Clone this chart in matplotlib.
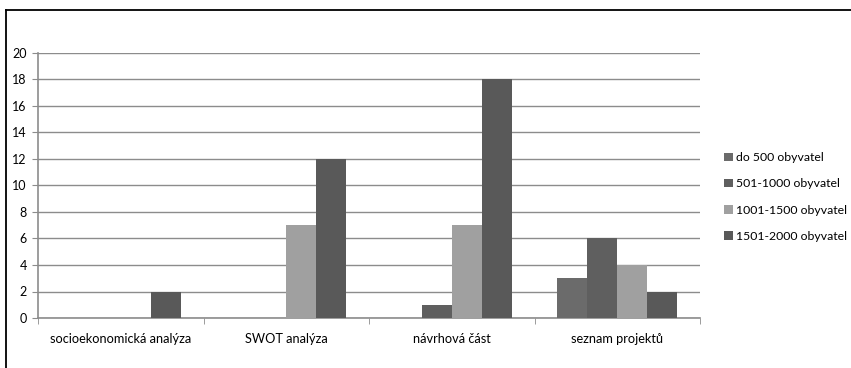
import matplotlib
matplotlib.use("Agg")
import matplotlib.pyplot as plt
import numpy as np

plt.rcParams['font.family'] = ['Lato', 'DejaVu Sans']

kategorie = ['socioekonomická analýza', 'SWOT analýza', 'návrhová část', 'seznam projektů']
skupiny = ['do 500 obyvatel', '501-1000 obyvatel', '1001-1500 obyvatel', '1501-2000 obyvatel']
do_500 = [0, 0, 0, 3]
od_501 = [0, 0, 1, 6]
od_1001 = [0, 7, 7, 4]
od_1501 = [2, 12, 18, 2]
barvy = ['#6b6b6b', '#5f5f5f', '#a0a0a0', '#595959']

fig = plt.figure(figsize=(8.51, 3.68), dpi=100)
ax = fig.add_axes([38 / 851, 1 - 318 / 368, (700 - 38) / 851, (318 - 53) / 368])

x = np.arange(len(kategorie))
w = 0.181
for i, (hodnoty, barva, nazev) in enumerate(zip([do_500, od_501, od_1001, od_1501], barvy, skupiny)):
    ax.bar(x + (i - 1.5) * w, hodnoty, w, color=barva, label=nazev, zorder=3)

ax.set_xlim(-0.5, 3.5)
ax.set_ylim(0, 20)
ax.set_yticks(range(0, 21, 2))
ax.yaxis.grid(True, color='#8c8c8c', linewidth=1, zorder=0)
ax.set_xticks(x)
ax.set_xticklabels(kategorie)
ax.set_xticks(np.arange(-0.5, 4, 1), minor=True)
ax.tick_params(axis='x', which='major', length=0, pad=11, labelsize=9.2)
ax.tick_params(axis='x', which='minor', length=4, color='#8c8c8c', direction='out')
ax.tick_params(axis='y', length=4, color='#8c8c8c', labelsize=9, pad=4)
for s in ['top', 'right']:
    ax.spines[s].set_visible(False)
ax.spines['left'].set_color('#8c8c8c')
ax.spines['bottom'].set_color('#8c8c8c')
ax.spines['left'].set_linewidth(1.2)
ax.spines['bottom'].set_linewidth(1.2)

fig.legend(loc='center left', bbox_to_anchor=(0.838, 1 - 197 / 368), frameon=False,
           fontsize=8.8, handlelength=0.7, handleheight=0.7, handletextpad=0.25,
           labelspacing=1.25)

# rámeček kolem grafu
fig.add_artist(plt.Line2D([6 / 851, 6 / 851], [0, 1 - 10 / 368], color='black', linewidth=1.3))
fig.add_artist(plt.Line2D([6 / 851, 1], [1 - 10 / 368, 1 - 10 / 368], color='black', linewidth=1.3))

fig.savefig('out.png', dpi=100)
